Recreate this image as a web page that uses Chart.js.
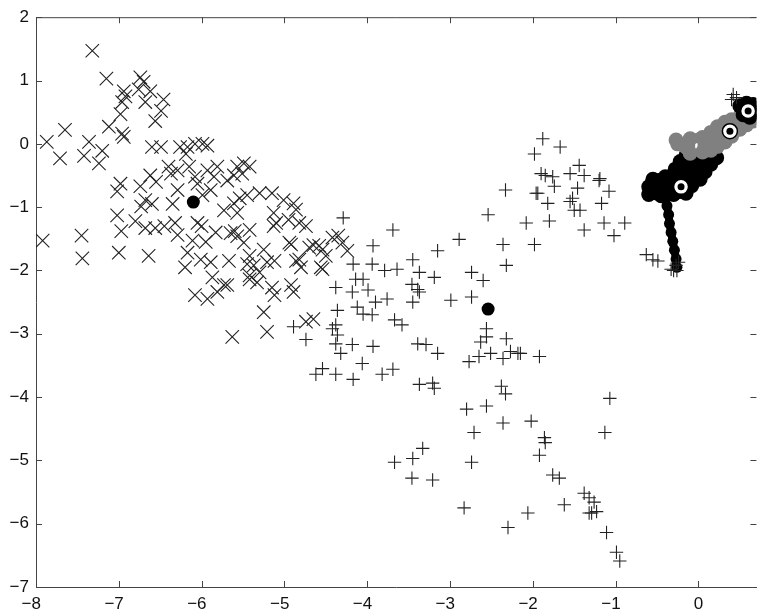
<!DOCTYPE html>
<html>
<head>
<meta charset="utf-8">
<script src="https://cdn.jsdelivr.net/npm/chart.js@4.4.0/dist/chart.umd.min.js"></script>
<style>
  html, body { margin: 0; padding: 0; background: #fff; }
  #wrap { width: 767px; height: 615px; }
</style>
</head>
<body>
<div id="wrap"><canvas id="chart"></canvas></div>
<script>
// tick labels
const xTicks = [-8, -7, -6, -5, -4, -3, -2, -1, 0];
const yTicks = [-7, -6, -5, -4, -3, -2, -1, 0, 1, 2];

// cluster 1 (x markers)
const crossPoints = [
  [-7.32,1.47],[-7.15,1.03],[-6.74,1.05],[-6.70,0.98],[-6.94,0.83],[-6.92,0.75],[-6.76,0.86],[-6.62,0.83],
  [-6.68,0.66],[-6.46,0.70],[-6.49,0.52],[-6.56,0.36],[-6.96,0.66],[-6.98,0.47],[-7.12,0.27],[-6.96,0.16],
  [-6.94,0.11],[-7.65,0.22],[-7.87,0.03],[-7.71,-0.23],[-7.36,0.03],[-7.42,-0.19],[-7.20,-0.11],[-7.24,-0.31],
  [-7.92,-1.53],[-7.45,-1.45],[-7.44,-1.81],[-7.02,-1.13],[-6.97,-1.38],[-7.00,-1.72],[-6.80,-1.22],[-6.73,-0.99],
  [-6.68,-1.33],[-6.56,-1.33],[-6.64,-1.77],[-6.60,-0.95],[-6.35,-0.95],[-6.32,-1.25],[-6.29,-1.44],[-6.20,-1.95],
  [-6.17,-1.72],[-6.11,-1.53],[-6.08,-2.39],[-6.05,-1.25],[-6.01,-1.83],[-5.93,-2.45],[-5.89,-1.87],[-5.87,-2.11],
  [-5.81,-2.34],[-5.83,-1.40],[-5.73,-1.05],[-5.69,-2.23],[-5.67,-1.85],[-5.65,-1.41],[-5.63,-3.05],[-5.57,-1.46],
  [-5.49,-1.56],[-5.45,-1.90],[-5.42,-1.77],[-5.42,-2.14],[-6.08,0.00],[-6.17,-0.05],[-5.99,0.00],[-5.93,-0.03],
  [-6.60,-0.05],[-6.49,-0.05],[-6.26,-0.05],[-6.19,-0.16],[-6.40,-0.36],[-6.37,-0.47],[-6.29,-0.42],[-6.62,-0.50],
  [-6.55,-0.60],[-6.74,-0.67],[-6.98,-0.63],[-7.02,-0.75],[-6.15,-0.36],[-6.08,-0.52],[-6.05,-0.63],[-5.99,-0.81],
  [-5.93,-0.42],[-5.85,-0.52],[-5.81,-0.36],[-5.89,-0.73],[-6.68,-0.89],[-6.29,-0.73],[-5.69,-0.58],[-5.57,-0.36],
  [-5.49,-0.31],[-5.42,-0.36],[-5.61,-0.50],[-5.54,-0.86],[-5.45,-0.81],[-5.61,-0.94],[-5.51,-0.47],[-5.30,-0.78],
  [-5.15,-0.78],[-5.01,-0.89],[-4.89,-0.94],[-4.86,-1.04],[-5.13,-1.09],[-5.10,-1.25],[-4.95,-1.20],[-4.82,-1.25],
  [-4.74,-1.30],[-5.57,-1.09],[-5.60,-1.38],[-5.42,-1.36],[-5.25,-1.67],[-4.94,-1.56],[-4.65,-1.60],[-4.54,-1.67],
  [-4.42,-1.48],[-5.13,-1.30],[-4.92,-1.59],[-4.58,-1.61],[-4.35,-1.45],[-4.30,-1.56],[-4.24,-1.69],[-4.50,-1.77],
  [-5.37,-1.92],[-5.30,-2.03],[-5.21,-1.87],[-5.12,-1.85],[-4.86,-1.85],[-4.80,-1.95],[-4.54,-1.98],[-5.42,-2.08],
  [-5.33,-2.19],[-5.15,-2.27],[-5.12,-2.39],[-4.92,-2.23],[-4.89,-2.34],[-5.73,-2.23],[-5.25,-2.66],[-5.21,-2.97],
  [-4.74,-2.81],[-4.65,-2.77],[-4.70,-1.64],[-4.82,-1.83],[-4.56,-1.95],[-6.45,-1.30],[-6.00,-1.30],[-5.95,-1.55]
];

// cluster 2 (+ markers)
const plusPoints = [
  [-4.29,-1.17],[-3.69,-1.36],[-3.93,-1.61],[-4.17,-1.90],[-3.94,-1.90],[-4.05,-2.14],[-4.14,-2.14],[-3.79,-2.00],
  [-3.64,-1.98],[-3.45,-1.83],[-3.15,-1.69],[-2.89,-1.51],[-2.54,-1.12],[-2.33,-0.73],[-1.96,-0.78],[-2.08,-1.25],
  [-1.98,-1.59],[-2.36,-1.59],[-2.32,-1.92],[-2.74,-2.03],[-2.60,-2.16],[-3.19,-2.11],[-3.37,-2.03],[-3.46,-2.22],
  [-3.39,-2.30],[-3.37,-2.34],[-3.45,-2.50],[-2.99,-2.47],[-2.74,-2.42],[-3.76,-2.45],[-3.90,-2.50],[-3.99,-2.31],
  [-4.18,-2.34],[-4.38,-2.27],[-4.36,-2.63],[-4.12,-2.58],[-4.05,-2.69],[-3.94,-2.70],[-4.38,-2.86],[-4.42,-2.92],
  [-4.36,-3.02],[-3.67,-2.78],[-3.58,-2.86],[-4.74,-3.09],[-4.89,-2.89],[-4.38,-3.16],[-4.18,-3.17],[-3.93,-3.20],
  [-4.32,-3.31],[-4.06,-3.47],[-3.39,-3.16],[-3.29,-3.17],[-3.15,-3.31],[-4.54,-3.55],[-4.62,-3.64],[-4.38,-3.64],
  [-4.17,-3.72],[-3.82,-3.64],[-3.69,-3.56],[-3.37,-3.80],[-3.21,-3.78],[-3.19,-3.86],[-2.56,-2.92],[-2.56,-3.05],
  [-2.63,-3.13],[-2.32,-3.08],[-2.51,-3.31],[-2.65,-3.36],[-2.77,-3.44],[-2.36,-3.39],[-2.27,-3.28],[-2.15,-3.31],
  [-2.18,-3.31],[-1.92,-3.36],[-2.38,-3.83],[-2.33,-3.95],[-2.56,-4.14],[-2.80,-4.19],[-2.36,-4.41],[-2.02,-4.38],
  [-2.71,-4.56],[-1.86,-4.64],[-1.85,-4.72],[-1.92,-4.92],[-2.74,-5.03],[-3.33,-4.81],[-3.45,-4.97],[-3.46,-5.28],
  [-3.21,-5.31],[-3.67,-5.03],[-1.76,-5.23],[-1.68,-5.28],[-1.62,-5.70],[-2.06,-5.83],[-2.83,-5.75],[-2.30,-6.06],
  [-1.38,-5.52],[-1.32,-5.59],[-1.26,-5.66],[-1.23,-5.81],[-1.32,-5.83],[-1.29,-5.83],[-1.11,-6.14],[-0.99,-6.45],
  [-0.95,-6.59],[-1.07,-4.02],[-1.13,-4.56],[-1.88,0.08],[-1.98,-0.16],[-1.67,-0.05],[-1.44,-0.34],[-1.90,-0.47],
  [-1.85,-0.50],[-1.76,-0.52],[-1.55,-0.47],[-1.38,-0.50],[-1.20,-0.58],[-1.74,-0.67],[-1.46,-0.70],[-1.94,-0.78],
  [-1.08,-0.75],[-1.52,-0.86],[-1.55,-0.91],[-1.82,-0.94],[-1.17,-0.94],[-1.50,-1.05],[-1.43,-1.05],[-1.80,-1.22],
  [-1.38,-1.36],[-1.14,-1.25],[-0.89,-1.25],[-1.02,-1.45],[-1.19,-0.55],[-0.63,-1.75],[-0.55,-1.83],[-0.49,-1.85],
  [-0.33,-1.98],[-0.27,-1.92],[-0.24,-1.87],[-0.30,-2.00],[-0.26,-2.00],[0.42,0.78],[0.46,0.73],[0.40,0.70]
];

// cluster centres
const centroids = [[-6.10,-0.92],[-2.54,-2.61]];

// trajectories in the upper right
const blackStem = [
  [-0.26,-1.95],[-0.27,-1.82],[-0.29,-1.68],[-0.31,-1.54],[-0.33,-1.40],[-0.35,-1.26],[-0.36,-1.12],[-0.38,-0.98],[-0.40,-0.86]
];
const blackBlob = [
  [-0.60,-0.80],[-0.45,-0.82],[-0.30,-0.80],[-0.15,-0.78],[-0.08,-0.66],[-0.30,-0.66],[-0.60,-0.68],[-0.55,-0.56],
  [-0.40,-0.52],[-0.20,-0.56],[0.02,-0.56],[0.08,-0.44],[-0.10,-0.42],[-0.28,-0.40],[-0.22,-0.28],[-0.05,-0.30],
  [0.15,-0.32],[0.22,-0.22],[0.05,-0.18],[-0.15,-0.18]
];
const greyBlob = [
  [-0.27,0.06],[-0.25,0.00],[-0.10,-0.15],[-0.10,0.08],[0.05,0.10],[0.05,-0.13],[0.15,-0.10],[0.15,0.18],
  [0.23,0.27],[0.23,-0.04],[0.32,0.03],[0.32,0.34],[0.40,0.38],[0.40,0.12],[0.50,0.23],[0.50,0.43],
  [0.58,0.45],[0.58,0.30],[0.66,0.36],[0.66,0.46]
];
const blackTop = [[0.50,0.60],[0.58,0.64],[0.66,0.62],[0.68,0.50],[0.62,0.42],[0.54,0.46],[0.58,0.54]];
const ringMarkers = [[-0.21,-0.68],[0.38,0.20],[0.60,0.52]];

const toXY = arr => arr.map(p => ({ x: p[0], y: p[1] }));
const minus = v => (v < 0 ? '\u2212' + Math.abs(v) : String(v));

function blob(label, pts, color, width, radius, order) {
  return {
    label,
    data: toXY(pts),
    showLine: true,
    borderColor: color,
    borderWidth: width,
    borderCapStyle: 'round',
    borderJoinStyle: 'round',
    pointRadius: radius,
    pointBackgroundColor: color,
    pointBorderWidth: 0,
    order
  };
}

// MATLAB style box: top line and inward ticks on every side
const boxTicks = {
  id: 'boxTicks',
  afterDraw(chart) {
    const { ctx, chartArea: a, scales: { x, y } } = chart;
    const len = 6;
    ctx.save();
    ctx.strokeStyle = '#444';
    ctx.lineWidth = 1;
    ctx.beginPath();
    ctx.moveTo(a.left, a.top + 0.5);
    ctx.lineTo(a.right, a.top + 0.5);
    xTicks.forEach(v => {
      const px = Math.round(x.getPixelForValue(v)) + 0.5;
      ctx.moveTo(px, a.bottom); ctx.lineTo(px, a.bottom - len);
      ctx.moveTo(px, a.top); ctx.lineTo(px, a.top + len);
    });
    yTicks.forEach(v => {
      const py = Math.round(y.getPixelForValue(v)) + 0.5;
      ctx.moveTo(a.left, py); ctx.lineTo(a.left + len, py);
      ctx.moveTo(a.right, py); ctx.lineTo(a.right - len, py);
    });
    ctx.stroke();
    ctx.restore();
  }
};

const tickFont = { family: '"Liberation Sans", Arial, sans-serif', size: 17 };

new Chart(document.getElementById('chart'), {
  type: 'scatter',
  data: {
    datasets: [
      {
        label: 'ring centres',
        data: toXY(ringMarkers),
        pointRadius: 3.5,
        backgroundColor: '#000',
        borderWidth: 0,
        order: -1
      },
      {
        label: 'rings',
        data: toXY(ringMarkers),
        pointStyle: 'circle',
        pointRadius: 7.5,
        backgroundColor: '#fff',
        borderColor: '#000',
        borderWidth: 1.5,
        order: 0
      },
      {
        label: 'centroids',
        data: toXY(centroids),
        pointRadius: 6.5,
        backgroundColor: '#000',
        borderWidth: 0,
        order: 1
      },
      {
        label: 'plus',
        data: toXY(plusPoints),
        pointStyle: 'cross',
        pointRadius: 6.7,
        borderColor: '#222',
        borderWidth: 1.1,
        order: 2
      },
      {
        label: 'cross',
        data: toXY(crossPoints),
        pointStyle: 'crossRot',
        pointRadius: 9.5,
        borderColor: '#222',
        borderWidth: 1.1,
        order: 3
      },
      blob('black top', blackTop, '#000', 10, 7.5, 4),
      blob('grey blob', greyBlob, '#808080', 10, 7.5, 5),
      blob('black blob', blackBlob, '#000', 10, 7.5, 6),
      blob('black stem', blackStem, '#000', 8, 5.5, 7)
    ]
  },
  options: {
    responsive: true,
    maintainAspectRatio: false,
    animation: false,
    layout: { padding: { top: 12, right: 0, left: 0, bottom: 0 } },
    plugins: { legend: { display: false }, tooltip: { enabled: false } },
    scales: {
      x: {
        type: 'linear',
        min: -8,
        max: 0.7,
        grid: { display: false, drawTicks: false },
        border: { display: true, color: '#444', width: 1 },
        afterBuildTicks: s => { s.ticks = xTicks.map(v => ({ value: v })); },
        afterFit: s => { s.height = 28; },
        ticks: {
          font: tickFont,
          color: '#111',
          padding: 7,
          maxRotation: 0,
          callback: v => (v < 0 ? minus(v) + '\u2007' : String(v))
        }
      },
      y: {
        type: 'linear',
        min: -7,
        max: 2,
        grid: { display: false, drawTicks: false },
        border: { display: true, color: '#444', width: 1 },
        afterBuildTicks: s => { s.ticks = yTicks.map(v => ({ value: v })); },
        afterFit: s => { s.width = 36; },
        ticks: { font: tickFont, color: '#111', padding: 7, callback: v => minus(v) }
      }
    }
  },
  plugins: [boxTicks]
});
</script>
</body>
</html>
